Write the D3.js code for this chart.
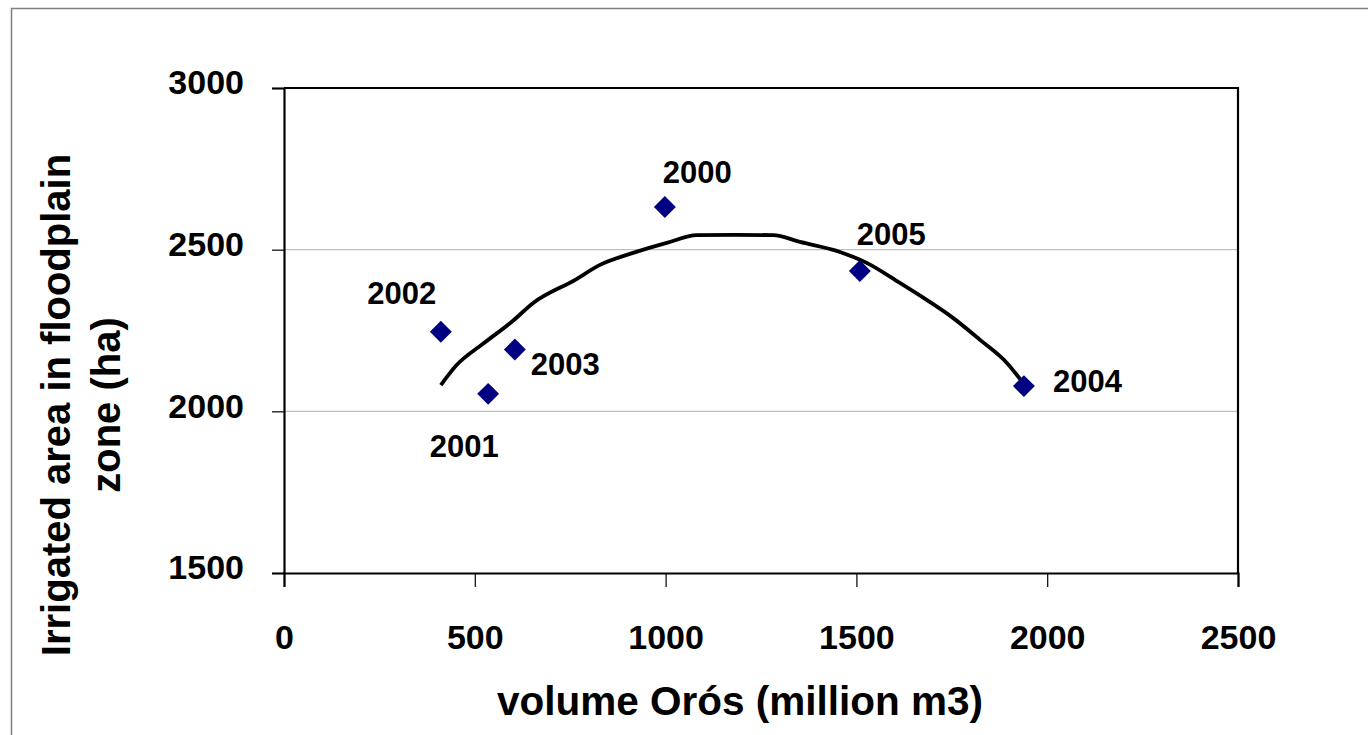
<!DOCTYPE html>
<html><head><meta charset="utf-8">
<script src="https://cdn.jsdelivr.net/npm/d3@7"></script>
<style>
html,body{margin:0;padding:0;background:#fff;}
svg{display:block;}
text{font-family:"Liberation Sans",Arial,sans-serif;font-weight:bold;fill:#000;}
</style></head>
<body>
<svg id="chart" width="1368" height="735"></svg>
<script>
// ---- data ----
const years = ["2000", "2001", "2002", "2003", "2004", "2005"];
const volumes = [998, 535, 411, 605, 1939, 1509];
const areas = [2632, 2054, 2246, 2191, 2078, 2434];
// trend line
const trendX = [411, 450, 524, 600, 653, 762, 828, 915, 1003, 1082, 1182, 1282, 1352, 1457, 1527, 1614, 1685, 1753, 1824, 1895, 1939];
const trendY = [2081, 2140, 2211, 2280, 2335, 2406, 2453, 2490, 2521, 2545, 2546, 2545, 2524, 2493, 2459, 2397, 2344, 2289, 2221, 2149, 2084];
const xTicks = [0, 500, 1000, 1500, 2000, 2500];
const yTicks = [1500, 2000, 2500, 3000];
const xTitle = "volume Orós (million m3)";
const yTitle = ["Irrigated area in floodplain", "zone (ha)"];

// ---- layout ----
const svg = d3.select("#chart");
const plot = {left: 284, right: 1238, top: 88, bottom: 573};
const x = d3.scaleLinear().domain([0, 2500]).range([plot.left, plot.right]);
const y = d3.scaleLinear().domain([1500, 3000]).range([plot.bottom, plot.top]);
const fmt = d3.format("d");

// outer frame
svg.append("rect").attr("x", 11.5).attr("y", 8.5).attr("width", 1400).attr("height", 800)
  .attr("fill", "none").attr("stroke", "#808080").attr("stroke-width", 1.5);

// gridlines
svg.append("g").selectAll("line").data(yTicks.filter(d => d > 1500 && d < 3000)).join("line")
  .attr("x1", plot.left).attr("x2", plot.right)
  .attr("y1", d => y(d)).attr("y2", d => y(d))
  .attr("stroke", "#c0c0c0").attr("stroke-width", 1.2);

// plot border (top/right)
svg.append("path")
  .attr("d", `M${plot.left},${plot.top}H${plot.right}V${plot.bottom}`)
  .attr("fill", "none").attr("stroke", "#000").attr("stroke-width", 2.2);

// axes
const xAxis = d3.axisBottom(x).tickValues(xTicks).tickFormat(fmt).tickSize(14).tickPadding(38);
const gx = svg.append("g").attr("transform", `translate(0,${plot.bottom})`).call(xAxis);
gx.select(".domain").attr("stroke", "#000").attr("stroke-width", 2.2);
gx.selectAll(".tick line").attr("stroke", "#000").attr("stroke-width", 1.2);
gx.selectAll(".tick text").style("font-size", "34px").attr("dy", "0.71em");

const yAxis = d3.axisLeft(y).tickValues(yTicks).tickFormat(fmt).tickSize(12).tickPadding(28);
const gy = svg.append("g").attr("transform", `translate(${plot.left},0)`).call(yAxis);
gy.select(".domain").attr("stroke", "#000").attr("stroke-width", 2.2);
gy.selectAll(".tick line").attr("stroke", "#000").attr("stroke-width", 1.2);
gy.selectAll(".tick text").style("font-size", "34px").attr("dy", "0.17em");

// trend line
const trend = trendX.map((v, i) => [v, trendY[i]]);
svg.append("path").datum(trend)
  .attr("d", d3.line().x(d => x(d[0])).y(d => y(d[1])).curve(d3.curveMonotoneX))
  .attr("fill", "none").attr("stroke", "#000").attr("stroke-width", 3.8)
  .attr("stroke-linejoin", "round");

// points
const pts = years.map((yr, i) => ({yr, v: volumes[i], a: areas[i]}));
svg.append("g").selectAll("path").data(pts).join("path")
  .attr("d", d3.symbol().type(d3.symbolSquare).size(240))
  .attr("transform", d => `translate(${x(d.v)},${y(d.a)}) rotate(45)`)
  .attr("fill", "#000080");

// labels (placement offsets relative to each point)
const labelPlace = {
  "2000": {dx: -2, dy: -24, anchor: "start"},
  "2001": {dx: -24, dy: 63, anchor: "middle"},
  "2002": {dx: -39, dy: -28, anchor: "middle"},
  "2003": {dx: 16, dy: 25, anchor: "start"},
  "2004": {dx: 29, dy: 6, anchor: "start"},
  "2005": {dx: -3, dy: -26, anchor: "start"}
};
svg.append("g").selectAll("text").data(pts).join("text")
  .attr("x", d => x(d.v) + labelPlace[d.yr].dx)
  .attr("y", d => y(d.a) + labelPlace[d.yr].dy)
  .attr("text-anchor", d => labelPlace[d.yr].anchor)
  .style("font-size", "31px")
  .text(d => d.yr);

// axis titles
svg.append("text").attr("x", 740).attr("y", 715).attr("text-anchor", "middle")
  .style("font-size", "40.5px").text(xTitle);

const yt = svg.append("text").attr("transform", "translate(0,405) rotate(-90)")
  .attr("text-anchor", "middle").style("font-size", "40px");
yt.selectAll("tspan").data(yTitle).join("tspan")
  .attr("x", 0).attr("y", (d, i) => 70 + i * 50).text(d => d);
</script>
</body></html>
